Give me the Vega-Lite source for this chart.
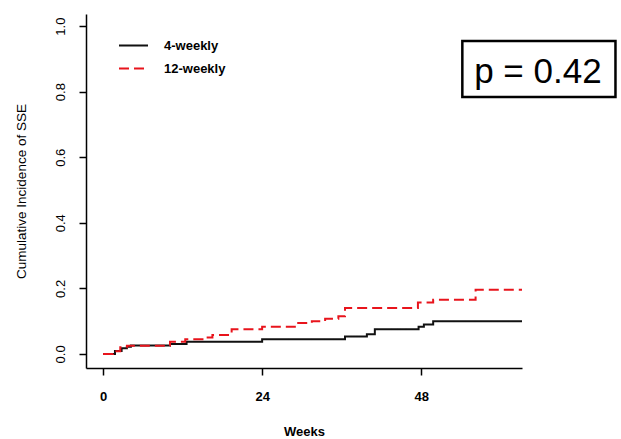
{
  "$schema": "https://vega.github.io/schema/vega-lite/v6.json",
  "width": 436,
  "height": 354,
  "autosize": "none",
  "padding": {"left": 86, "top": 14, "right": 99, "bottom": 71},
  "background": "white",
  "config": {
    "view": {"stroke": null},
    "font": "Liberation Sans",
    "axis": {"domainColor": "#000", "domainWidth": 1.5, "tickColor": "#000", "tickWidth": 1.5, "tickSize": 7, "grid": false, "labelColor": "#000", "titleColor": "#000"}
  },
  "datasets": {
    "curves": [
      {"week": 0, "cif": 0, "group": "4-weekly"},
      {"week": 1.8, "cif": 0.009, "group": "4-weekly"},
      {"week": 2.8, "cif": 0.017, "group": "4-weekly"},
      {"week": 3.6, "cif": 0.022, "group": "4-weekly"},
      {"week": 4.2, "cif": 0.026, "group": "4-weekly"},
      {"week": 10.1, "cif": 0.03, "group": "4-weekly"},
      {"week": 12.6, "cif": 0.037, "group": "4-weekly"},
      {"week": 24, "cif": 0.045, "group": "4-weekly"},
      {"week": 36.5, "cif": 0.053, "group": "4-weekly"},
      {"week": 39.8, "cif": 0.06, "group": "4-weekly"},
      {"week": 41, "cif": 0.075, "group": "4-weekly"},
      {"week": 47.6, "cif": 0.083, "group": "4-weekly"},
      {"week": 48.4, "cif": 0.09, "group": "4-weekly"},
      {"week": 49.8, "cif": 0.1, "group": "4-weekly"},
      {"week": 63.2, "cif": 0.1, "group": "4-weekly"},
      {"week": 0, "cif": 0, "group": "12-weekly"},
      {"week": 1.5, "cif": 0.008, "group": "12-weekly"},
      {"week": 2.6, "cif": 0.02, "group": "12-weekly"},
      {"week": 3.6, "cif": 0.025, "group": "12-weekly"},
      {"week": 10.1, "cif": 0.037, "group": "12-weekly"},
      {"week": 12.4, "cif": 0.045, "group": "12-weekly"},
      {"week": 15, "cif": 0.05, "group": "12-weekly"},
      {"week": 16.5, "cif": 0.058, "group": "12-weekly"},
      {"week": 19.4, "cif": 0.075, "group": "12-weekly"},
      {"week": 24, "cif": 0.083, "group": "12-weekly"},
      {"week": 29.2, "cif": 0.094, "group": "12-weekly"},
      {"week": 31.5, "cif": 0.1, "group": "12-weekly"},
      {"week": 33.5, "cif": 0.107, "group": "12-weekly"},
      {"week": 35.5, "cif": 0.115, "group": "12-weekly"},
      {"week": 36.5, "cif": 0.14, "group": "12-weekly"},
      {"week": 47.5, "cif": 0.157, "group": "12-weekly"},
      {"week": 49.8, "cif": 0.165, "group": "12-weekly"},
      {"week": 56.2, "cif": 0.196, "group": "12-weekly"},
      {"week": 63.2, "cif": 0.196, "group": "12-weekly"}
    ],
    "annot": [{"label": "p = 0.42"}]
  },
  "layer": [
    {
      "data": {"name": "curves"},
      "mark": {"type": "line", "interpolate": "step-after", "strokeWidth": 2},
      "encoding": {
        "x": {
          "field": "week", "type": "quantitative",
          "scale": {"domain": [-2.57, 63.2], "nice": false, "zero": false},
          "axis": {"values": [0, 24, 48], "title": "Weeks", "titleFontSize": 13, "titleFontWeight": "bold", "labelFontSize": 13, "labelFontWeight": "bold", "labelBaseline": "middle", "labelPadding": 21, "titlePadding": 22}
        },
        "y": {
          "field": "cif", "type": "quantitative",
          "scale": {"domain": [-0.043, 1.037], "nice": false, "zero": false},
          "axis": {"values": [0, 0.2, 0.4, 0.6, 0.8, 1.0], "format": ".1f", "title": "Cumulative Incidence of SSE", "titleFontSize": 13.5, "titleFontWeight": "normal", "labelFontSize": 13, "labelAngle": -90, "labelAlign": "center", "labelBaseline": "bottom", "labelPadding": 12, "titlePadding": 26}
        },
        "color": {
          "field": "group", "type": "nominal",
          "scale": {"domain": ["4-weekly", "12-weekly"], "range": ["#111111", "#e8141c"]},
          "legend": {"title": null, "orient": "none", "legendX": 32, "legendY": 16, "symbolType": "stroke", "symbolSize": 841, "symbolStrokeWidth": 2, "labelFontSize": 13, "labelFontWeight": "bold", "labelOffset": 15, "rowPadding": -10, "padding": 0}
        },
        "strokeDash": {
          "field": "group", "type": "nominal",
          "scale": {"domain": ["4-weekly", "12-weekly"], "range": [[1, 0], [10, 5]]},
          "legend": {"title": null, "orient": "none", "legendX": 32, "legendY": 16, "symbolType": "stroke", "symbolSize": 841, "symbolStrokeWidth": 2, "labelFontSize": 13, "labelFontWeight": "bold", "labelOffset": 15, "rowPadding": -10, "padding": 0}
        }
      }
    },
    {
      "data": {"name": "annot"},
      "mark": {"type": "rect", "fill": "white", "stroke": "#000", "strokeWidth": 2.5},
      "encoding": {
        "x": {"datum": 54.2, "type": "quantitative"},
        "x2": {"datum": 77.3},
        "y": {"datum": 0.955, "type": "quantitative"},
        "y2": {"datum": 0.784}
      }
    },
    {
      "data": {"name": "annot"},
      "mark": {"type": "text", "fontSize": 35, "align": "center", "baseline": "alphabetic", "color": "#000", "font": "Liberation Sans"},
      "encoding": {
        "x": {"datum": 65.6, "type": "quantitative"},
        "y": {"datum": 0.825, "type": "quantitative"},
        "text": {"field": "label"}
      }
    }
  ]
}
